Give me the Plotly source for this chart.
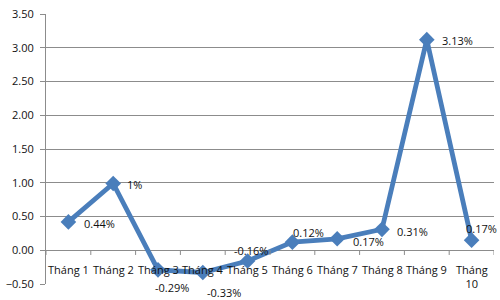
import plotly.graph_objects as go

categories = ["Tháng 1", "Tháng 2", "Tháng 3", "Tháng 4", "Tháng 5",
              "Tháng 6", "Tháng 7", "Tháng 8", "Tháng 9", "Tháng 10"]
tick_labels = ["Tháng 1", "Tháng 2", "Tháng 3", "Tháng 4", "Tháng 5",
               "Tháng 6", "Tháng 7", "Tháng 8", "Tháng 9", "Tháng<br>10"]
values = [0.42, 0.99, -0.29, -0.33, -0.16, 0.12, 0.17, 0.31, 3.12, 0.15]
value_labels = ["0.44%", "1%", "-0.29%", "-0.33%", "-0.16%",
                "0.12%", "0.17%", "0.31%", "3.13%", "0.17%"]

# label offsets (pixels) of label centre relative to points
label_dx = [31, 21, 14, 21, 3, 16, 31, 30, 31, 10]
label_dy = [-2, -1, -18, -20, 11, 10, -3, -2, -1, 12]

FONT = "Open Sans"
BLUE = "#4A7EBB"
GRID = "#8C8C8C"
TXT = "#111"

fig = go.Figure()
fig.add_trace(go.Scatter(
    x=list(range(len(categories))), y=values, mode="lines+markers",
    line=dict(color=BLUE, width=4.8),
    marker=dict(symbol="diamond", size=12, color=BLUE),
    hoverinfo="skip", cliponaxis=False,
))

annotations = []
for i, (v, t) in enumerate(zip(values, value_labels)):
    annotations.append(dict(x=i, y=v, xref="x", yref="y", text=t, showarrow=False,
                            xshift=label_dx[i], yshift=label_dy[i], xanchor="center",
                            yanchor="middle",
                            font=dict(family=FONT, size=11, color=TXT)))
for i, t in enumerate(tick_labels):
    annotations.append(dict(x=i, y=0, xref="x", yref="y", text=t, showarrow=False,
                            yanchor="top", yshift=-10,
                            font=dict(family=FONT, size=11, color=TXT)))

shapes = []
for k in range(len(categories) + 1):
    shapes.append(dict(type="line", xref="x", yref="y", x0=k - 0.5, x1=k - 0.5,
                       y0=0, y1=-0.07, line=dict(color=GRID, width=1)))

fig.update_layout(
    width=500, height=300,
    margin=dict(l=43, r=6, t=11, b=16),
    paper_bgcolor="white", plot_bgcolor="white",
    showlegend=False,
    annotations=annotations, shapes=shapes,
    font=dict(family=FONT, size=11, color=TXT),
)
fig.update_xaxes(range=[-0.5, len(categories) - 0.5], showgrid=False, zeroline=False,
                 showticklabels=False, showline=False, ticks="")
fig.update_yaxes(range=[-0.5, 3.5], dtick=0.5, tickformat=".2f", showgrid=True,
                 gridcolor=GRID, gridwidth=1, zeroline=False, showline=True,
                 linecolor=GRID, linewidth=1, ticks="outside", ticklen=5, tickcolor=GRID,
                 ticklabelstandoff=4,
                 tickfont=dict(family=FONT, size=11, color=TXT))

fig.write_html("out.html")
